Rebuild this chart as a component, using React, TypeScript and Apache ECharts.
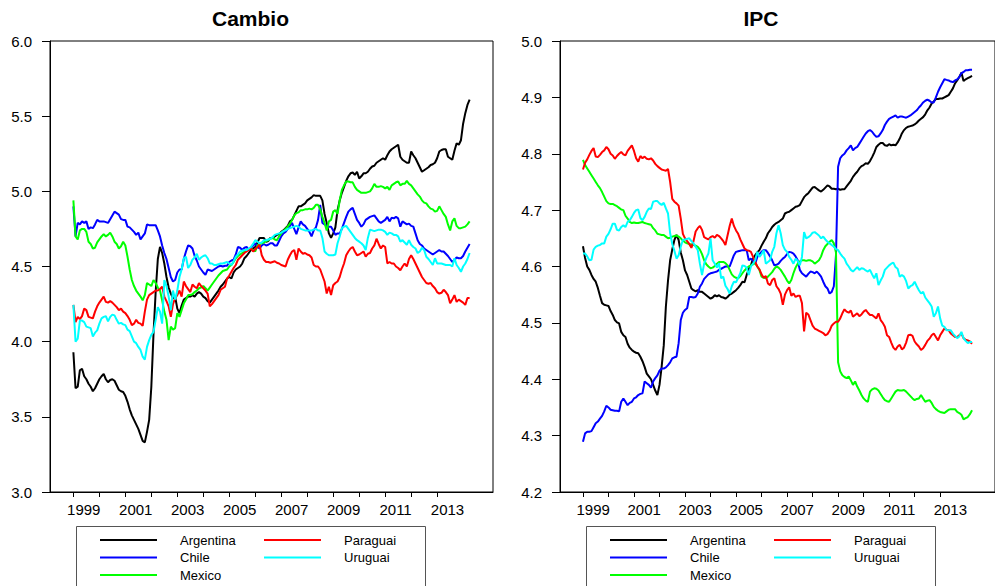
import React, { useEffect, useRef } from "react";
import * as echarts from "echarts";

// Monthly observations, January 1999 to April 2014 (184 months)
const months: number[] = Array.from({ length: 184 }, (_, i) => 1999 + i / 12);

const countries = ["Argentina", "Chile", "Mexico", "Paraguai", "Uruguai"];
const colors = ["#000000", "#0000FF", "#00FF00", "#FF0000", "#00FFFF"];

const yearTicks = [1999, 2000, 2001, 2002, 2003, 2004, 2005, 2006, 2007, 2008, 2009, 2010, 2011, 2012, 2013];
const yearLabels = [1999, 2001, 2003, 2005, 2007, 2009, 2011, 2013];

// ---------------- Cambio (left panel) ----------------
const cambioArgentina = [
  3.93, 3.69, 3.70, 3.81, 3.82, 3.77, 3.75, 3.72, 3.70, 3.67, 3.69, 3.72,
  3.75, 3.77, 3.785, 3.75, 3.73, 3.745, 3.75, 3.74, 3.71, 3.68, 3.67, 3.665,
  3.64, 3.60, 3.55, 3.51, 3.48, 3.45, 3.42, 3.38, 3.34, 3.33, 3.40, 3.48,
  3.70, 4.05, 4.33, 4.55, 4.63, 4.59, 4.52, 4.43, 4.36, 4.32, 4.29, 4.30,
  4.22, 4.19, 4.24, 4.28, 4.29, 4.30, 4.30, 4.31, 4.30, 4.32, 4.33, 4.32,
  4.30, 4.29, 4.27, 4.26, 4.28, 4.30, 4.32, 4.34, 4.365, 4.38, 4.40, 4.42,
  4.43, 4.42, 4.46, 4.48, 4.49, 4.50, 4.52, 4.555, 4.57, 4.59, 4.61, 4.62,
  4.63, 4.66, 4.69, 4.69, 4.69, 4.665, 4.67, 4.69, 4.69, 4.70, 4.71, 4.715,
  4.73, 4.74, 4.755, 4.77, 4.80, 4.81, 4.84, 4.87, 4.90, 4.90, 4.91, 4.92,
  4.94, 4.95, 4.96, 4.975, 4.97, 4.97, 4.97, 4.94, 4.85, 4.79, 4.72, 4.69,
  4.72, 4.76, 4.875, 4.94, 4.99, 5.03, 5.07, 5.10, 5.12, 5.125, 5.11, 5.13,
  5.085, 5.10, 5.12, 5.12, 5.13, 5.15, 5.165, 5.17, 5.19, 5.20, 5.21, 5.22,
  5.21, 5.24, 5.265, 5.28, 5.29, 5.30, 5.31, 5.23, 5.21, 5.20, 5.19, 5.19,
  5.265, 5.24, 5.22, 5.19, 5.16, 5.13, 5.14, 5.15, 5.16, 5.175, 5.18, 5.19,
  5.22, 5.265, 5.275, 5.28, 5.28, 5.23, 5.22, 5.21, 5.27, 5.32, 5.31, 5.34,
  5.45, 5.52, 5.575, 5.61,
];
const cambioChile = [
  4.90, 4.70, 4.79, 4.78, 4.80, 4.79, 4.80, 4.75, 4.76, 4.755, 4.78, 4.81,
  4.80, 4.80, 4.80, 4.795, 4.79, 4.815, 4.84, 4.865, 4.855, 4.845, 4.815, 4.81,
  4.81, 4.765, 4.76, 4.745, 4.73, 4.71, 4.725, 4.68, 4.70, 4.72, 4.78, 4.775,
  4.775, 4.775, 4.775, 4.74, 4.70, 4.64, 4.59, 4.55, 4.49, 4.43, 4.40, 4.41,
  4.46, 4.48, 4.48, 4.55, 4.60, 4.64, 4.635, 4.62, 4.57, 4.54, 4.50, 4.48,
  4.46, 4.445, 4.48, 4.475, 4.47, 4.48, 4.49, 4.50, 4.505, 4.50, 4.505, 4.505,
  4.53, 4.54, 4.545, 4.58, 4.63, 4.625, 4.61, 4.625, 4.63, 4.61, 4.625, 4.64,
  4.655, 4.63, 4.62, 4.64, 4.65, 4.64, 4.645, 4.655, 4.655, 4.64, 4.64, 4.67,
  4.70, 4.72, 4.73, 4.75, 4.77, 4.79, 4.75, 4.715, 4.76, 4.80, 4.78, 4.77,
  4.75, 4.73, 4.70, 4.74, 4.76, 4.81, 4.91, 4.79, 4.78, 4.77, 4.765, 4.765,
  4.74, 4.71, 4.72, 4.72, 4.75, 4.79, 4.83, 4.865, 4.88, 4.89, 4.85, 4.81,
  4.79, 4.765, 4.78, 4.81, 4.82, 4.83, 4.835, 4.84, 4.82, 4.80, 4.79, 4.80,
  4.81, 4.83, 4.80, 4.825, 4.82, 4.83, 4.82, 4.765, 4.80, 4.79, 4.78, 4.785,
  4.77, 4.765, 4.72, 4.675, 4.65, 4.64, 4.62, 4.61, 4.60, 4.59, 4.58, 4.59,
  4.60, 4.61, 4.60, 4.60, 4.585, 4.57, 4.55, 4.53, 4.545, 4.56, 4.555, 4.555,
  4.57, 4.60, 4.625, 4.65,
];
const cambioMexico = [
  4.94, 4.70, 4.68, 4.74, 4.75, 4.75, 4.73, 4.665, 4.65, 4.62, 4.625, 4.66,
  4.68, 4.70, 4.715, 4.70, 4.71, 4.725, 4.70, 4.665, 4.65, 4.62, 4.635, 4.665,
  4.64, 4.565, 4.48, 4.41, 4.37, 4.34, 4.32, 4.30, 4.275, 4.31, 4.39, 4.38,
  4.37, 4.41, 4.39, 4.36, 4.34, 4.275, 4.20, 4.145, 4.01, 4.10, 4.08, 4.09,
  4.19, 4.165, 4.21, 4.255, 4.28, 4.31, 4.31, 4.315, 4.33, 4.34, 4.355, 4.36,
  4.37, 4.355, 4.34, 4.36, 4.38, 4.40, 4.42, 4.44, 4.455, 4.47, 4.475, 4.48,
  4.50, 4.51, 4.53, 4.555, 4.57, 4.58, 4.59, 4.60, 4.61, 4.615, 4.62, 4.61,
  4.60, 4.64, 4.65, 4.655, 4.66, 4.67, 4.675, 4.685, 4.69, 4.68, 4.675, 4.70,
  4.72, 4.735, 4.75, 4.765, 4.785, 4.81, 4.84, 4.855, 4.86, 4.875, 4.875, 4.88,
  4.88, 4.885, 4.88, 4.89, 4.91, 4.91, 4.88, 4.83, 4.79, 4.74, 4.80, 4.81,
  4.865, 4.875, 4.85, 4.94, 5.01, 5.04, 5.065, 5.065, 5.06, 5.06, 5.03, 5.01,
  5.00, 4.99, 4.99, 4.99, 4.995, 5.00, 5.02, 5.05, 5.03, 5.03, 5.035, 5.03,
  5.02, 5.03, 5.01, 5.04, 5.05, 5.06, 5.065, 5.04, 5.05, 5.05, 5.07, 5.05,
  5.04, 5.02, 5.00, 4.98, 4.965, 4.94, 4.925, 4.92, 4.90, 4.885, 4.88, 4.865,
  4.87, 4.90, 4.875, 4.85, 4.83, 4.78, 4.74, 4.80, 4.82, 4.77, 4.755, 4.755,
  4.76, 4.765, 4.78, 4.80,
];
const cambioParaguai = [
  4.245, 4.13, 4.165, 4.15, 4.17, 4.22, 4.21, 4.165, 4.16, 4.155, 4.20, 4.235,
  4.26, 4.28, 4.30, 4.265, 4.26, 4.27, 4.26, 4.245, 4.23, 4.21, 4.22, 4.20,
  4.19, 4.17, 4.145, 4.11, 4.12, 4.145, 4.125, 4.12, 4.105, 4.20, 4.28, 4.31,
  4.32, 4.33, 4.34, 4.34, 4.35, 4.365, 4.30, 4.27, 4.235, 4.165, 4.25, 4.29,
  4.31, 4.34, 4.30, 4.40, 4.37, 4.35, 4.33, 4.38, 4.365, 4.355, 4.39, 4.37,
  4.355, 4.34, 4.32, 4.235, 4.25, 4.27, 4.29, 4.31, 4.345, 4.355, 4.365, 4.42,
  4.44, 4.465, 4.49, 4.51, 4.545, 4.56, 4.575, 4.59, 4.60, 4.61, 4.62, 4.60,
  4.615, 4.63, 4.645, 4.575, 4.545, 4.53, 4.53, 4.525, 4.53, 4.535, 4.525, 4.52,
  4.51, 4.505, 4.50, 4.545, 4.575, 4.60, 4.61, 4.545, 4.62, 4.60, 4.585, 4.59,
  4.58, 4.575, 4.56, 4.51, 4.50, 4.50, 4.48, 4.44, 4.40, 4.32, 4.365, 4.31,
  4.375, 4.39, 4.40, 4.43, 4.48, 4.52, 4.575, 4.60, 4.62, 4.63, 4.60, 4.575,
  4.58, 4.59, 4.60, 4.565, 4.585, 4.59, 4.62, 4.64, 4.685, 4.65, 4.62, 4.64,
  4.63, 4.52, 4.53, 4.52, 4.52, 4.50, 4.49, 4.475, 4.50, 4.52, 4.50, 4.55,
  4.575, 4.55, 4.52, 4.49, 4.46, 4.43, 4.41, 4.39, 4.385, 4.39, 4.37, 4.355,
  4.33, 4.32, 4.325, 4.345, 4.33, 4.31, 4.255, 4.28, 4.31, 4.265, 4.28, 4.27,
  4.26, 4.245, 4.29, 4.29,
];
const cambioUruguai = [
  4.245, 4.00, 4.02, 4.14, 4.14, 4.13, 4.10, 4.095, 4.09, 4.035, 4.06, 4.075,
  4.12, 4.155, 4.165, 4.17, 4.135, 4.165, 4.18, 4.175, 4.145, 4.12, 4.125, 4.115,
  4.11, 4.08, 4.07, 4.035, 4.00, 3.99, 3.965, 3.945, 3.90, 3.88, 3.965, 4.01,
  4.045, 4.065, 4.145, 4.23, 4.20, 4.12, 4.41, 4.37, 4.30, 4.21, 4.34, 4.28,
  4.34, 4.43, 4.48, 4.555, 4.565, 4.49, 4.51, 4.545, 4.56, 4.585, 4.545, 4.56,
  4.57, 4.575, 4.555, 4.52, 4.52, 4.51, 4.51, 4.515, 4.52, 4.52, 4.525, 4.53,
  4.52, 4.51, 4.535, 4.565, 4.58, 4.60, 4.605, 4.61, 4.61, 4.62, 4.63, 4.65,
  4.675, 4.665, 4.655, 4.66, 4.675, 4.675, 4.68, 4.685, 4.695, 4.71, 4.715, 4.72,
  4.725, 4.735, 4.74, 4.75, 4.755, 4.76, 4.765, 4.77, 4.765, 4.75, 4.745, 4.74,
  4.74, 4.74, 4.74, 4.745, 4.75, 4.74, 4.74, 4.69, 4.60, 4.585, 4.575, 4.575,
  4.575, 4.58, 4.655, 4.70, 4.755, 4.765, 4.77, 4.75, 4.73, 4.71, 4.69, 4.675,
  4.665, 4.655, 4.64, 4.61, 4.69, 4.745, 4.74, 4.735, 4.74, 4.745, 4.745, 4.74,
  4.73, 4.71, 4.725, 4.72, 4.71, 4.71, 4.70, 4.665, 4.675, 4.66, 4.645, 4.675,
  4.645, 4.63, 4.62, 4.59, 4.60, 4.625, 4.61, 4.565, 4.55, 4.53, 4.51, 4.555,
  4.52, 4.52, 4.52, 4.515, 4.51, 4.51, 4.51, 4.50, 4.555, 4.51, 4.49, 4.465,
  4.50, 4.52, 4.55, 4.59,
];

// ---------------- IPC (right panel) ----------------
const ipcArgentina = [
  4.636, 4.615, 4.600, 4.594, 4.585, 4.578, 4.573, 4.562, 4.548, 4.535, 4.532, 4.531,
  4.530, 4.521, 4.514, 4.505, 4.501, 4.499, 4.484, 4.478, 4.475, 4.463, 4.456, 4.452,
  4.449, 4.447, 4.446, 4.440, 4.432, 4.422, 4.410, 4.405, 4.400, 4.390, 4.380, 4.372,
  4.390, 4.422, 4.460, 4.529, 4.575, 4.611, 4.630, 4.647, 4.656, 4.647, 4.625, 4.611,
  4.593, 4.585, 4.573, 4.561, 4.558, 4.556, 4.558, 4.555, 4.555, 4.552, 4.549, 4.546,
  4.543, 4.545, 4.549, 4.547, 4.549, 4.546, 4.545, 4.543, 4.546, 4.550, 4.552, 4.555,
  4.558, 4.562, 4.567, 4.573, 4.572, 4.585, 4.595, 4.602, 4.614, 4.620, 4.625, 4.629,
  4.637, 4.644, 4.650, 4.659, 4.664, 4.670, 4.674, 4.677, 4.679, 4.682, 4.685, 4.694,
  4.696, 4.697, 4.700, 4.703, 4.706, 4.707, 4.709, 4.716, 4.723, 4.727, 4.730, 4.735,
  4.740, 4.741, 4.738, 4.735, 4.733, 4.736, 4.740, 4.744, 4.742, 4.738, 4.738, 4.737,
  4.738, 4.736, 4.737, 4.737, 4.742, 4.747, 4.752, 4.759, 4.764, 4.768, 4.774, 4.778,
  4.780, 4.783, 4.782, 4.787, 4.794, 4.802, 4.812, 4.816, 4.819, 4.819, 4.815, 4.814,
  4.817, 4.815, 4.816, 4.815, 4.820, 4.827, 4.836, 4.842, 4.846, 4.848, 4.849, 4.850,
  4.852, 4.855, 4.859, 4.862, 4.865, 4.870, 4.877, 4.882, 4.889, 4.893, 4.897, 4.897,
  4.898, 4.898, 4.900, 4.902, 4.904, 4.910, 4.916, 4.925, 4.930, 4.936, 4.944, 4.929,
  4.932, 4.934, 4.936, 4.938,
];
const ipcChile = [
  4.289, 4.304, 4.307, 4.307, 4.308, 4.315, 4.322, 4.325, 4.330, 4.335, 4.343, 4.353,
  4.350, 4.346, 4.345, 4.344, 4.344, 4.343, 4.360, 4.366, 4.360, 4.354, 4.358, 4.360,
  4.366, 4.368, 4.372, 4.374, 4.375, 4.396, 4.393, 4.390, 4.385, 4.396, 4.402, 4.407,
  4.415, 4.419, 4.419, 4.421, 4.425, 4.430, 4.437, 4.439, 4.440, 4.464, 4.505, 4.518,
  4.523, 4.526, 4.546, 4.546, 4.545, 4.546, 4.552, 4.564, 4.570, 4.578, 4.582, 4.586,
  4.588, 4.589, 4.590, 4.591, 4.594, 4.596, 4.598, 4.600, 4.600, 4.600, 4.610, 4.620,
  4.626, 4.627, 4.628, 4.629, 4.629, 4.629, 4.611, 4.614, 4.610, 4.605, 4.617, 4.622,
  4.626, 4.629, 4.629, 4.624, 4.618, 4.611, 4.602, 4.603, 4.605, 4.610, 4.614, 4.617,
  4.622, 4.626, 4.625, 4.623, 4.618, 4.611, 4.594, 4.588, 4.585, 4.582, 4.587, 4.591,
  4.590, 4.588, 4.591, 4.587, 4.582, 4.573, 4.565, 4.561, 4.552, 4.555, 4.565, 4.620,
  4.777, 4.792, 4.797, 4.800, 4.806, 4.810, 4.815, 4.806, 4.810, 4.812, 4.818, 4.824,
  4.830, 4.836, 4.840, 4.842, 4.839, 4.834, 4.830, 4.831, 4.836, 4.842, 4.851, 4.857,
  4.862, 4.864, 4.866, 4.868, 4.864, 4.866, 4.866, 4.865, 4.864, 4.866, 4.868, 4.871,
  4.874, 4.877, 4.882, 4.886, 4.891, 4.894, 4.896, 4.894, 4.891, 4.891, 4.900, 4.910,
  4.918, 4.925, 4.932, 4.931, 4.930, 4.928, 4.927, 4.930, 4.932, 4.936, 4.943, 4.945,
  4.948, 4.948, 4.949, 4.949,
];
const ipcMexico = [
  4.789, 4.780, 4.774, 4.768, 4.762, 4.756, 4.750, 4.744, 4.739, 4.732, 4.724, 4.716,
  4.712, 4.711, 4.711, 4.709, 4.707, 4.704, 4.701, 4.700, 4.690, 4.685, 4.679, 4.677,
  4.678, 4.677, 4.677, 4.678, 4.679, 4.677, 4.676, 4.675, 4.674, 4.668, 4.664, 4.658,
  4.657, 4.656, 4.656, 4.653, 4.650, 4.651, 4.653, 4.654, 4.655, 4.653, 4.650, 4.646,
  4.643, 4.641, 4.640, 4.639, 4.638, 4.637, 4.635, 4.630, 4.622, 4.611, 4.604, 4.600,
  4.597, 4.598, 4.601, 4.605, 4.608, 4.608, 4.608, 4.606, 4.602, 4.594, 4.586, 4.582,
  4.580, 4.579, 4.583, 4.588, 4.593, 4.597, 4.600, 4.602, 4.604, 4.606, 4.600, 4.594,
  4.582, 4.580, 4.579, 4.582, 4.586, 4.590, 4.596, 4.600, 4.598, 4.594, 4.588, 4.582,
  4.575, 4.570, 4.576, 4.588, 4.598, 4.605, 4.609, 4.611, 4.611, 4.610, 4.611, 4.611,
  4.609, 4.605, 4.608, 4.611, 4.618, 4.629, 4.636, 4.640, 4.644, 4.647, 4.641, 4.625,
  4.430, 4.414, 4.407, 4.404, 4.402, 4.405, 4.398, 4.390, 4.396, 4.387, 4.380, 4.372,
  4.366, 4.362, 4.360, 4.378, 4.382, 4.384, 4.383, 4.380, 4.374, 4.368, 4.363, 4.361,
  4.360, 4.366, 4.372, 4.378, 4.381, 4.380, 4.380, 4.381, 4.378, 4.374, 4.370, 4.366,
  4.363, 4.365, 4.366, 4.372, 4.366, 4.360, 4.362, 4.363, 4.358, 4.351, 4.347, 4.344,
  4.342, 4.341, 4.340, 4.343, 4.346, 4.347, 4.347, 4.347, 4.342, 4.340, 4.337, 4.329,
  4.331, 4.333, 4.338, 4.345,
];
const ipcParaguai = [
  4.772, 4.784, 4.790, 4.798, 4.805, 4.810, 4.795, 4.794, 4.798, 4.803, 4.806, 4.812,
  4.808, 4.800, 4.797, 4.791, 4.796, 4.800, 4.803, 4.799, 4.797, 4.805, 4.810, 4.815,
  4.805, 4.792, 4.786, 4.796, 4.792, 4.795, 4.791, 4.790, 4.792, 4.788, 4.782, 4.778,
  4.775, 4.772, 4.771, 4.770, 4.773, 4.750, 4.720, 4.715, 4.712, 4.708, 4.685, 4.658,
  4.650, 4.645, 4.640, 4.633, 4.645, 4.662, 4.668, 4.672, 4.665, 4.652, 4.650, 4.648,
  4.652, 4.654, 4.651, 4.656, 4.654, 4.650, 4.645, 4.638, 4.655, 4.672, 4.685, 4.672,
  4.664, 4.658, 4.648, 4.640, 4.632, 4.629, 4.628, 4.626, 4.617, 4.608, 4.600, 4.595,
  4.586, 4.580, 4.583, 4.570, 4.567, 4.576, 4.579, 4.565, 4.560, 4.552, 4.532, 4.550,
  4.558, 4.563, 4.548, 4.552, 4.546, 4.548, 4.548, 4.535, 4.485, 4.518, 4.515, 4.505,
  4.495, 4.490, 4.488, 4.486, 4.484, 4.482, 4.478, 4.480, 4.486, 4.495, 4.499, 4.502,
  4.502, 4.508, 4.517, 4.524, 4.520, 4.518, 4.522, 4.511, 4.514, 4.517, 4.512, 4.515,
  4.520, 4.523, 4.518, 4.514, 4.514, 4.511, 4.508, 4.517, 4.505, 4.500, 4.493, 4.478,
  4.475, 4.465, 4.456, 4.452, 4.458, 4.461, 4.453, 4.456, 4.465, 4.478, 4.479, 4.477,
  4.467, 4.462, 4.458, 4.452, 4.455, 4.461, 4.468, 4.472, 4.478, 4.481, 4.475, 4.469,
  4.478, 4.484, 4.490, 4.488, 4.487, 4.481, 4.478, 4.475, 4.475, 4.478, 4.481, 4.473,
  4.470, 4.469, 4.467, 4.463,
];
const ipcUruguai = [
  4.623, 4.623, 4.618, 4.611, 4.612, 4.630, 4.635, 4.637, 4.638, 4.641, 4.641, 4.653,
  4.658, 4.666, 4.676, 4.676, 4.665, 4.664, 4.670, 4.673, 4.670, 4.679, 4.682, 4.688,
  4.695, 4.700, 4.701, 4.686, 4.682, 4.688, 4.697, 4.703, 4.702, 4.715, 4.716, 4.716,
  4.712, 4.709, 4.713, 4.703, 4.694, 4.659, 4.640, 4.628, 4.614, 4.620, 4.635, 4.647,
  4.648, 4.649, 4.650, 4.645, 4.641, 4.635, 4.629, 4.605, 4.585, 4.605, 4.615, 4.623,
  4.650, 4.611, 4.605, 4.598, 4.606, 4.579, 4.582, 4.566, 4.560, 4.552, 4.565, 4.573,
  4.572, 4.580, 4.588, 4.602, 4.601, 4.598, 4.585, 4.600, 4.605, 4.611, 4.626, 4.617,
  4.622, 4.629, 4.605, 4.608, 4.611, 4.626, 4.635, 4.659, 4.673, 4.659, 4.638, 4.630,
  4.626, 4.617, 4.612, 4.605, 4.614, 4.610, 4.602, 4.617, 4.661, 4.650, 4.652, 4.655,
  4.660, 4.661, 4.658, 4.655, 4.650, 4.653, 4.648, 4.644, 4.641, 4.638, 4.635, 4.631,
  4.629, 4.623, 4.618, 4.614, 4.605, 4.600, 4.594, 4.591, 4.595, 4.599, 4.594, 4.597,
  4.596, 4.593, 4.591, 4.594, 4.586, 4.579, 4.588, 4.567, 4.575, 4.582, 4.594, 4.598,
  4.602, 4.605, 4.607, 4.599, 4.596, 4.582, 4.585, 4.582, 4.574, 4.561, 4.565, 4.567,
  4.573, 4.565, 4.558, 4.552, 4.555, 4.545, 4.540, 4.535, 4.529, 4.511, 4.517, 4.529,
  4.508, 4.495, 4.493, 4.487, 4.487, 4.487, 4.481, 4.477, 4.473, 4.476, 4.484, 4.473,
  4.468, 4.464, 4.466, 4.466,
];

const cambioSeries = [cambioArgentina, cambioChile, cambioMexico, cambioParaguai, cambioUruguai];
const ipcSeries = [ipcArgentina, ipcChile, ipcMexico, ipcParaguai, ipcUruguai];

const FONT = "'Liberation Sans', Arial, Helvetica, sans-serif";
const LABEL_SHIFT = 0.4;

function makeXAxis(gridIndex: number) {
  return {
    type: "value",
    gridIndex,
    min: 1998.1,
    max: 2015.15,
    axisLine: { show: true, onZero: false, lineStyle: { color: "#000", width: 1 } },
    axisTick: { show: true, customValues: yearTicks, length: 5, lineStyle: { color: "#000" } },
    axisLabel: {
      customValues: yearLabels.map((y) => y + LABEL_SHIFT),
      formatter: (v: number) => String(Math.round(v - LABEL_SHIFT)),
      fontSize: 15,
      fontFamily: FONT,
      color: "#000",
      margin: 10,
    },
    splitLine: { show: false },
  };
}

function makeYAxis(gridIndex: number, min: number, max: number, interval: number) {
  return {
    type: "value",
    gridIndex,
    min,
    max,
    interval,
    axisLine: { show: true, lineStyle: { color: "#000", width: 1 } },
    axisTick: { show: true, length: 8, lineStyle: { color: "#000" } },
    axisLabel: {
      formatter: (v: number) => v.toFixed(1),
      fontSize: 15,
      fontFamily: FONT,
      color: "#000",
      margin: 18,
    },
    splitLine: { show: false },
  };
}

const legendCommon = {
  orient: "vertical",
  icon: "rect",
  itemWidth: 57,
  itemHeight: 2,
  itemGap: 2.5,
  padding: 0,
  selectedMode: false,
  textStyle: { fontSize: 13, lineHeight: 15, fontFamily: FONT, color: "#000", padding: [0, 0, 0, 18] },
};

export default function App() {
  const ref = useRef<HTMLDivElement>(null);

  useEffect(() => {
    if (!ref.current) return;
    const chart = echarts.init(ref.current, undefined, { renderer: "svg" });

    const series: any[] = [];
    countries.forEach((name, k) => {
      series.push({
        name,
        type: "line",
        xAxisIndex: 0,
        yAxisIndex: 0,
        symbol: "none",
        showSymbol: false,
        color: colors[k],
        lineStyle: { color: colors[k], width: 2 },
        data: cambioSeries[k].map((v, i) => [months[i], v]),
      });
    });
    countries.forEach((name, k) => {
      series.push({
        name,
        type: "line",
        xAxisIndex: 1,
        yAxisIndex: 1,
        symbol: "none",
        showSymbol: false,
        color: colors[k],
        lineStyle: { color: colors[k], width: 2 },
        data: ipcSeries[k].map((v, i) => [months[i], v]),
      });
    });

    chart.setOption({
      animation: false,
      backgroundColor: "#fff",
      textStyle: { fontFamily: FONT },
      grid: [
        { left: 50, top: 41, width: 443, height: 451, show: true, borderColor: "#000", borderWidth: 1, backgroundColor: "transparent" },
        { left: 560, top: 41, width: 443, height: 451, show: true, borderColor: "#000", borderWidth: 1, backgroundColor: "transparent" },
      ],
      xAxis: [makeXAxis(0), makeXAxis(1)],
      yAxis: [makeYAxis(0, 3.0, 6.0, 0.5), makeYAxis(1, 4.2, 5.0, 0.1)],
      legend: [
        { ...legendCommon, left: 100, top: 532.5, data: ["Argentina", "Chile", "Mexico"] },
        { ...legendCommon, left: 264, top: 532.5, data: ["Paraguai", "Uruguai"] },
        { ...legendCommon, left: 610, top: 532.5, data: ["Argentina", "Chile", "Mexico"] },
        { ...legendCommon, left: 774, top: 532.5, data: ["Paraguai", "Uruguai"] },
      ],
      graphic: [
        {
          type: "text",
          style: { text: "Cambio", x: 250.5, y: 18, textAlign: "center", textVerticalAlign: "middle", align: "center", verticalAlign: "middle", fontSize: 21, fontWeight: "bold", fontFamily: FONT, fill: "#000" },
        },
        {
          type: "text",
          style: { text: "IPC", x: 761, y: 18, textAlign: "center", textVerticalAlign: "middle", align: "center", verticalAlign: "middle", fontSize: 21, fontWeight: "bold", fontFamily: FONT, fill: "#000" },
        },
        {
          type: "rect",
          shape: { x: 76.5, y: 526.5, width: 349, height: 70 },
          style: { fill: "none", stroke: "#555", lineWidth: 1 },
        },
        {
          type: "rect",
          shape: { x: 586.5, y: 526.5, width: 349, height: 70 },
          style: { fill: "none", stroke: "#555", lineWidth: 1 },
        },
      ],
      series,
    });

    return () => chart.dispose();
  }, []);

  return <div ref={ref} style={{ position: "absolute", left: 0, top: 0, width: 995, height: 586 }} />;
}
